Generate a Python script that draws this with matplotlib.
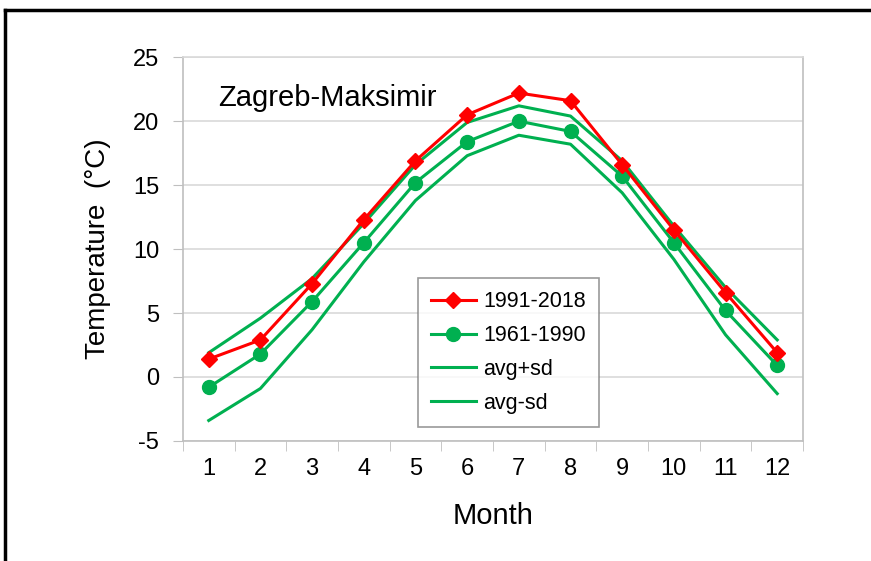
import matplotlib.pyplot as plt
from matplotlib.lines import Line2D

plt.rcParams['font.family'] = ['Liberation Sans', 'DejaVu Sans']
plt.rcParams['axes.unicode_minus'] = False

months = [1, 2, 3, 4, 5, 6, 7, 8, 9, 10, 11, 12]
t_1991_2018 = [1.4, 2.9, 7.3, 12.3, 16.9, 20.5, 22.2, 21.6, 16.6, 11.5, 6.6, 1.9]
t_1961_1990 = [-0.8, 1.8, 5.9, 10.5, 15.2, 18.4, 20.0, 19.2, 15.7, 10.5, 5.2, 0.9]
avg_plus_sd = [1.9, 4.6, 7.7, 12.0, 16.6, 19.9, 21.2, 20.4, 16.9, 11.8, 7.0, 2.9]
avg_minus_sd = [-3.4, -0.9, 3.7, 9.0, 13.8, 17.3, 18.9, 18.2, 14.4, 9.2, 3.3, -1.3]

red = '#ff0000'
green = '#00b050'
grid_c = '#d9d9d9'
axis_c = '#bfbfbf'

fig = plt.figure(figsize=(8.71, 5.61), dpi=100)
ax = fig.add_axes([0.210, 0.214, 0.712, 0.684])

ax.plot(months, t_1991_2018, color=red, lw=2.2, marker='D', ms=8, label='1991-2018', zorder=5)
ax.plot(months, t_1961_1990, color=green, lw=2.2, marker='o', ms=10, label='1961-1990', zorder=4)
ax.plot(months, avg_plus_sd, color=green, lw=2.2, label='avg+sd', zorder=3)
ax.plot(months, avg_minus_sd, color=green, lw=2.2, label='avg-sd', zorder=3)

ax.set_xlim(0.5, 12.5)
ax.set_ylim(-5, 25)
ax.set_yticks(range(-5, 26, 5))
ax.set_xticks(months)
ax.set_xticks([m + 0.5 for m in range(0, 13)], minor=True)
ax.tick_params(axis='x', which='major', length=0, pad=12, labelsize=17)
ax.tick_params(axis='x', which='minor', length=7, color=axis_c, direction='out')
ax.tick_params(axis='y', length=7, color=axis_c, labelsize=17, pad=10)
ax.grid(axis='y', color=grid_c, lw=1.2)
ax.set_axisbelow(True)
for s in ax.spines.values():
    s.set_color(axis_c)
    s.set_linewidth(1.2)
ax.spines['top'].set_color(grid_c)

ax.set_xlabel('Month', fontsize=21, labelpad=16)
ax.set_ylabel('Temperature  (°C)', fontsize=20, labelpad=16)
ax.text(0.056, 0.895, 'Zagreb-Maksimir', transform=ax.transAxes, fontsize=21, va='center')

leg = ax.legend(loc='upper left', bbox_to_anchor=(0.379, 0.424), borderaxespad=0,
                fontsize=15.5, frameon=True, fancybox=False, edgecolor='#808080',
                handlelength=2.1, labelspacing=0.6, borderpad=0.6, handletextpad=0.35)
leg.get_frame().set_linewidth(1.2)

# outer frame (top and left edges)
fig.add_artist(Line2D([0.006, 1.0], [0.983, 0.983], color='black', lw=2.5, transform=fig.transFigure))
fig.add_artist(Line2D([0.006, 0.006], [0.0, 0.983], color='black', lw=2.5, transform=fig.transFigure))

fig.savefig('out.png', dpi=100)
